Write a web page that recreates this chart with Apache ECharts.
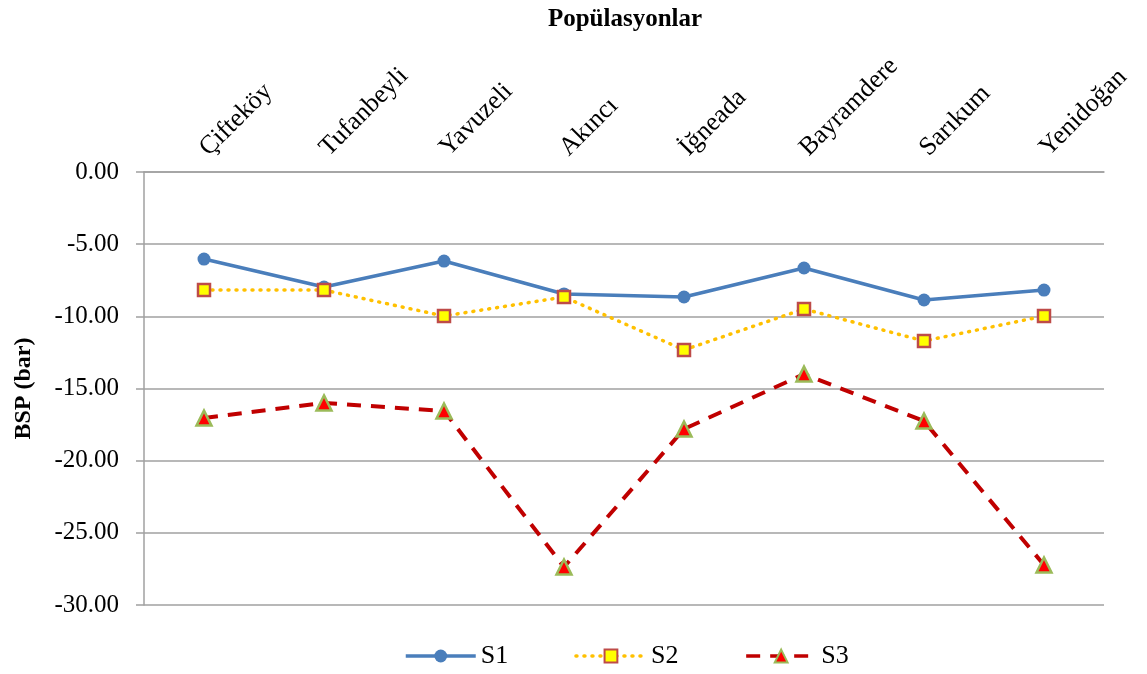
<!DOCTYPE html>
<html>
<head>
<meta charset="utf-8">
<script src="https://cdn.jsdelivr.net/npm/echarts@6/dist/echarts.min.js"></script>
<style>
    html, body { margin: 0; padding: 0; background: #fff; }
    #chart { width: 1147px; height: 674px; }
</style>
</head>
<body>
<div id="chart"></div>
<script>
    var categories = ['Çifteköy', 'Tufanbeyli', 'Yavuzeli', 'Akıncı', 'İğneada', 'Bayramdere', 'Sarıkum', 'Yenidoğan'];
    var s1 = [-6.03, -7.97, -6.17, -8.45, -8.66, -6.65, -8.87, -8.18];
    var s2 = [-8.18, -8.18, -9.98, -8.66, -12.33, -9.49, -11.71, -9.98];
    var s3 = [-17.05, -16.0, -16.56, -27.37, -17.81, -14.0, -17.26, -27.23];

    var font = '"Liberation Serif", "Times New Roman", serif';
    var chart = echarts.init(document.getElementById('chart'));

    var option = {
        animation: false,
        title: {
            text: 'Popülasyonlar',
            left: 620,
            top: 2,
            textAlign: 'center',
            textStyle: { fontFamily: font, fontWeight: 'bold', fontSize: 25, color: '#000' }
        },
        grid: { left: 144, right: 43, top: 172, bottom: 69 },
        legend: {
            left: 404,
            top: 643,
            padding: 0,
            itemWidth: 70,
            itemHeight: 16,
            itemGap: 66,
            textStyle: { fontFamily: font, fontSize: 26, color: '#000' },
            lineStyle: { width: 3.5 },
            data: ['S1', 'S2', 'S3']
        },
        xAxis: {
            type: 'category',
            position: 'top',
            data: categories,
            boundaryGap: true,
            axisLine: { onZero: false, lineStyle: { color: '#a0a0a0', width: 1.5 } },
            axisTick: { inside: true, length: 8, lineStyle: { color: '#a0a0a0', width: 1.5 } },
            axisLabel: { rotate: -45, margin: 20, fontFamily: font, fontSize: 26, color: '#000', interval: 0 },
            splitLine: { show: false }
        },
        yAxis: {
            type: 'value',
            min: -30,
            max: 0,
            interval: 5,
            name: 'BSP (bar)',
            nameLocation: 'middle',
            nameGap: 108,
            nameTextStyle: { fontFamily: font, fontWeight: 'bold', fontSize: 24, color: '#000' },
            axisLine: { show: true, lineStyle: { color: '#a0a0a0', width: 1.5 } },
            axisTick: { show: true, length: 8, lineStyle: { color: '#a0a0a0', width: 1.5 } },
            axisLabel: {
                margin: 25,
                fontFamily: font,
                fontSize: 25,
                color: '#000',
                formatter: function (v) { return v.toFixed(2); }
            },
            splitLine: { show: true, lineStyle: { color: '#a0a0a0', width: 1.5 } }
        },
        series: [
            {
                name: 'S1',
                type: 'line',
                data: s1,
                symbol: 'circle',
                symbolSize: 13,
                lineStyle: { color: '#4a7ebb', width: 3.5 },
                itemStyle: { color: '#4a7ebb', borderWidth: 0 }
            },
            {
                name: 'S2',
                type: 'line',
                data: s2,
                symbol: 'rect',
                symbolSize: 12,
                lineStyle: { color: '#ffc000', width: 3.5, type: [1, 7], cap: 'round' },
                itemStyle: { color: '#ffff00', borderColor: '#be4b48', borderWidth: 2.5 }
            },
            {
                name: 'S3',
                type: 'line',
                data: s3,
                symbol: 'triangle',
                symbolSize: 15,
                z: 1,
                lineStyle: { color: '#c00000', width: 4, type: [14, 10] },
                itemStyle: { color: '#ff0000', borderColor: '#9bbb59', borderWidth: 2.5 }
            }
        ]
    };

    chart.setOption(option);
</script>
</body>
</html>
